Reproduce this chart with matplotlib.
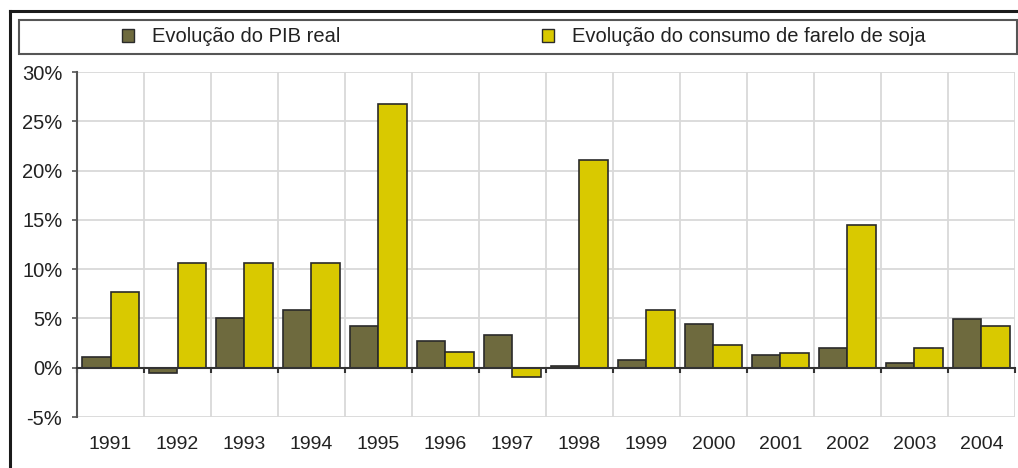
import matplotlib
matplotlib.use("Agg")
import matplotlib.pyplot as plt
from matplotlib.patches import Rectangle, Patch
from matplotlib.lines import Line2D
import numpy as np

plt.rcParams['font.family'] = ['Liberation Sans', 'DejaVu Sans']

years = ["1991", "1992", "1993", "1994", "1995", "1996", "1997",
         "1998", "1999", "2000", "2001", "2002", "2003", "2004"]
pib = [1.1, -0.5, 5.0, 5.9, 4.2, 2.7, 3.3, 0.2, 0.8, 4.4, 1.3, 2.0, 0.5, 4.9]
soja = [7.7, 10.6, 10.6, 10.6, 26.8, 1.6, -0.9, 21.1, 5.9, 2.3, 1.5, 14.5, 2.0, 4.2]
series_labels = ["Evolução do PIB real", "Evolução do consumo de farelo de soja"]
yticks = [-5, 0, 5, 10, 15, 20, 25, 30]
ytick_labels = ["-5%", "0%", "5%", "10%", "15%", "20%", "25%", "30%"]

c_pib = "#6E6A3E"
c_soja = "#D9C900"
edge = "#2a2a2a"

fig = plt.figure(figsize=(10.18, 4.68), dpi=100)
W, H = 1018, 468
ax = fig.add_axes([77 / W, 1 - 417 / H, (1015 - 77) / W, (417 - 72) / H])

x = np.arange(len(years))
bw = 0.425
ax.bar(x - bw / 2, pib, width=bw, color=c_pib, edgecolor=edge, linewidth=1.2, zorder=3)
ax.bar(x + bw / 2, soja, width=bw, color=c_soja, edgecolor=edge, linewidth=1.2, zorder=3)

ax.set_xlim(-0.5, len(years) - 0.5)
ax.set_ylim(-5, 30)

ax.set_yticks(yticks)
ax.set_yticklabels(ytick_labels)
ax.set_xticks(x)
ax.set_xticklabels(years)
ax.set_xticks(np.arange(len(years) + 1) - 0.5, minor=True)
ax.grid(False)
for yv in yticks:
    if yv != 0:
        ax.axhline(yv, color="#d9d9d9", lw=1.3, zorder=1)
for xv in np.arange(len(years) + 1) - 0.5:
    ax.axvline(xv, color="#d9d9d9", lw=1.3, zorder=1)

for s in ["top", "right"]:
    ax.spines[s].set_visible(False)
ax.spines["bottom"].set_position(("data", 0))
ax.spines["bottom"].set_color("#333333")
ax.spines["bottom"].set_linewidth(1.5)
ax.spines["bottom"].set_zorder(4)
ax.spines["left"].set_color("#555555")
ax.spines["left"].set_linewidth(1.5)

ax.tick_params(axis="y", direction="out", length=3.6, width=1.2, color="#555555",
               labelsize=14.5, labelcolor="#222222", pad=7)
ax.tick_params(axis="x", which="major", length=0, labelsize=14,
               labelcolor="#222222", pad=49)
ax.tick_params(axis="x", which="minor", direction="out", length=3.6, width=1.5,
               color="#333333")

# legend box
fig.patches.append(Rectangle((19 / W, 1 - 54 / H), (1017 - 19) / W, 34 / H,
                             transform=fig.transFigure, fill=False,
                             edgecolor="#555555", lw=1.5))
handles = [Patch(facecolor=c_pib, edgecolor=edge, lw=1.0),
           Patch(facecolor=c_soja, edgecolor=edge, lw=1.0)]
fig.legend(handles, series_labels, loc="center", ncol=2, frameon=False,
           bbox_to_anchor=(524 / W, 1 - 37 / H), fontsize=14.5,
           handlelength=0.6, handleheight=0.6, handletextpad=0.9,
           columnspacing=10.0, labelcolor="#222222")

# outer frame (left and top)
fig.add_artist(Line2D([10 / W, 10 / W], [0, 1 - 11 / H], transform=fig.transFigure,
                      color="#1a1a1a", lw=2.2))
fig.add_artist(Line2D([10 / W, 1], [1 - 11 / H, 1 - 11 / H], transform=fig.transFigure,
                      color="#1a1a1a", lw=2.2))

fig.savefig("out.png", dpi=100)
